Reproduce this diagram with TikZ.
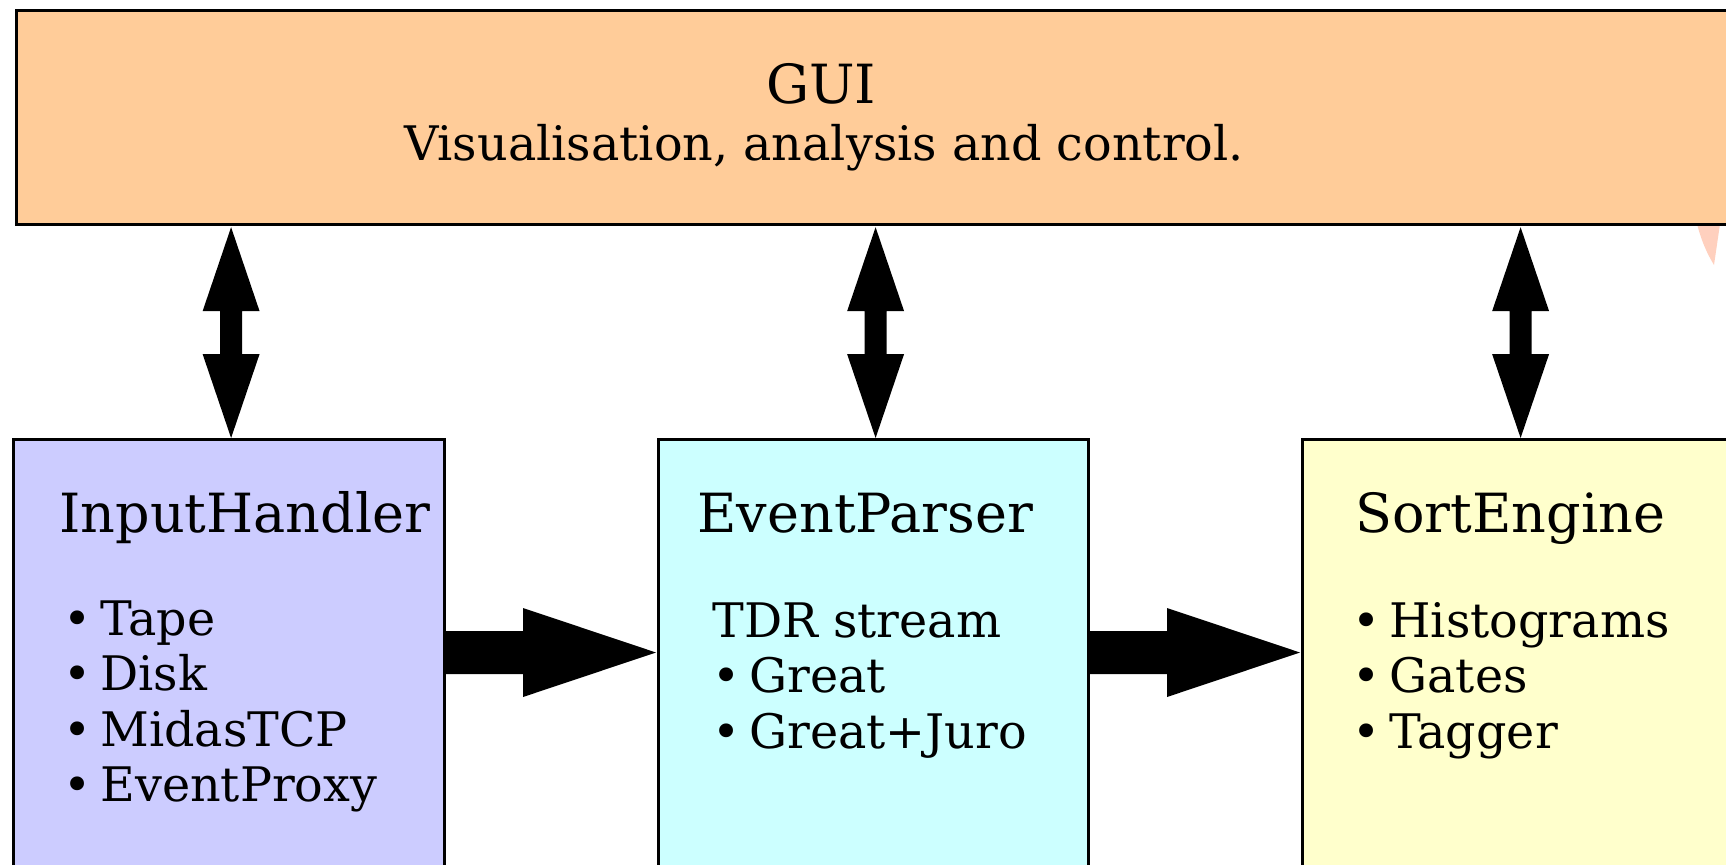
\documentclass[tikz,border=0pt]{standalone}
\usepackage{fontspec}
\setmainfont{DejaVu Serif}
\usetikzlibrary{calc}

\definecolor{guifill}{HTML}{FFCC99}
\definecolor{inputfill}{HTML}{CCCCFF}
\definecolor{parserfill}{HTML}{CCFFFF}
\definecolor{sortfill}{HTML}{FFFFCC}
\definecolor{blush}{HTML}{FFD0BE}

% bullet marker for list entries
\newcommand{\itm}{\textbullet\hspace{4.5pt}}

% fat two-headed vertical arrow: #1 = upper tip, #2 = lower tip
\newcommand{\fatdouble}[2]{%
  \fill[fatarrow] (#1) -- ($(#1)+(28.5,84)$) -- ($(#1)+(11,84)$)
    -- ($(#2)+(11,-84)$) -- ($(#2)+(28.5,-84)$) -- (#2)
    -- ($(#2)+(-28.5,-84)$) -- ($(#2)+(-11,-84)$)
    -- ($(#1)+(-11,84)$) -- ($(#1)+(-28.5,84)$) -- cycle;}

% fat rightward arrow: #1 = tail, #2 = tip
\newcommand{\fatright}[2]{%
  \fill[fatarrow] ($(#1)+(0,-21.5)$) -- ($(#2)+(-133,-21.5)$)
    -- ($(#2)+(-133,-44.5)$) -- (#2) -- ($(#2)+(-133,44.5)$)
    -- ($(#2)+(-133,21.5)$) -- ($(#1)+(0,21.5)$) -- cycle;}

\begin{document}
\begin{tikzpicture}[x=0.5pt,y=-0.5pt,
  panel/.style={draw=black, line width=1.6pt, rectangle, inner sep=0pt,
    anchor=north west},
  heading/.style={anchor=base west, inner sep=0pt,
    font=\fontsize{27pt}{32pt}\selectfont},
  listing/.style={anchor=base west, inner sep=0pt,
    font=\fontsize{23.8pt}{27.75pt}\selectfont},
  fatarrow/.style={fill=black}]

\useasboundingbox (0,0) rectangle (1726,864);
\clip (0,0) rectangle (1726,864);

% tip of a shape reaching in from the right
\fill[blush] (1697,224) .. controls (1702,243) and (1708,255) .. (1714,265)
  -- (1720,224) -- cycle;

% panels
\node[panel, fill=guifill, minimum width=866pt, minimum height=107pt]
  (gui) at (15,9) {};
\node[panel, fill=inputfill, minimum width=215.5pt, minimum height=260pt]
  (ih) at (12,438) {};
\node[panel, fill=parserfill, minimum width=215pt, minimum height=260pt]
  (ep) at (657,438) {};
\node[panel, fill=sortfill, minimum width=216pt, minimum height=260pt]
  (se) at (1301,438) {};

% GUI caption
\node[heading, anchor=base] (guititle) at (821,103) {GUI};
\node[listing, anchor=base] (guisub) at (824,160)
  {Visualisation, analysis and control.};

% InputHandler
\node[heading] (ihtitle) at (59,532) {InputHandler};
\node[listing] (ihlist) at (63,635)
  {\begin{tabular}[t]{@{}l@{}}\itm Tape\\ \itm Disk\\ \itm MidasTCP\\ \itm EventProxy\end{tabular}};

% EventParser
\node[heading] (eptitle) at (697,532) {EventParser};
\node[listing] (eplist) at (712,637)
  {\begin{tabular}[t]{@{}l@{}}TDR stream\\ \itm Great\\ \itm Great+Juro\end{tabular}};

% SortEngine
\node[heading] (setitle) at (1355,532) {SortEngine};
\node[listing] (selist) at (1352,637)
  {\begin{tabular}[t]{@{}l@{}}\itm Histograms\\ \itm Gates\\ \itm Tagger\end{tabular}};

% GUI <-> components
\coordinate (ihup) at ($(ih.north)+(2,0)$);
\coordinate (epup) at ($(ep.north)+(2,0)$);
\coordinate (seup) at ($(se.north)+(2,0)$);
\coordinate (guiih) at ($(gui.south -| ihup)+(0,1)$);
\coordinate (guiep) at ($(gui.south -| epup)+(0,1)$);
\coordinate (guise) at ($(gui.south -| seup)+(0,1)$);
\fatdouble{guiih}{ihup}
\fatdouble{guiep}{epup}
\fatdouble{guise}{seup}

% data flow between components
\coordinate (ihout) at ($(ih.north east)+(0,214.5)$);
\coordinate (epin)  at ($(ep.north west)+(-1,214.5)$);
\coordinate (epout) at ($(ep.north east)+(0,214.5)$);
\coordinate (sein)  at ($(se.north west)+(-1,214.5)$);
\fatright{ihout}{epin}
\fatright{epout}{sein}

\end{tikzpicture}
\end{document}
